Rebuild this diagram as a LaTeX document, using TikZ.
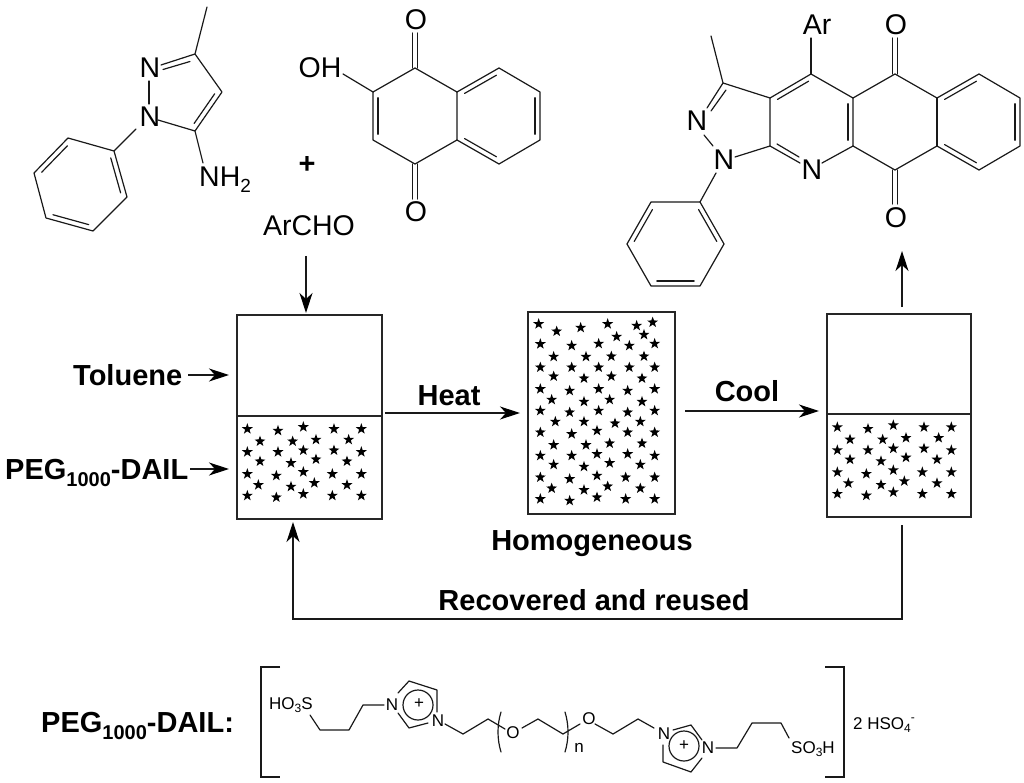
\documentclass[tikz,border=0pt]{standalone}
\usepackage{fontspec}
\setmainfont{Liberation Sans}
\usetikzlibrary{calc,arrows.meta,shapes.geometric}
\newcommand{\lo}[2]{\raisebox{-0.22em}{\fontsize{#1}{#1}\selectfont #2}}
\newcommand{\hi}[2]{\raisebox{0.45em}{\fontsize{#1}{#1}\selectfont #2}}
% inner line of a double bond, on the right-hand side going a -> b on screen
\newcommand{\dbin}[2]{\draw[bond] ($(#1)!0.12!(#2)!5pt!-90:(#2)$) -- ($(#2)!0.12!(#1)!5pt!90:(#1)$);}
\newcommand{\dbsym}[2]{\draw[bond] ($(#1)!2.4pt!90:(#2)$) -- ($(#2)!2.4pt!-90:(#1)$); \draw[bond] ($(#1)!2.4pt!-90:(#2)$) -- ($(#2)!2.4pt!90:(#1)$);}
\tikzset{
  bond/.style={line width=1.2pt,line join=round,line cap=round,black!90},
  atom/.style={inner sep=0pt,font=\fontsize{28.5}{30}\selectfont},
  small/.style={inner sep=0pt,font=\fontsize{17}{19}\selectfont},
  lab/.style={inner sep=0pt,font=\fontsize{29}{31}\selectfont\bfseries},
  vessel/.style={draw=black!85,line width=1.5pt,inner sep=0pt,anchor=north west},
  arr/.style={line width=1.2pt,black!90,-{Stealth[length=20pt,width=13pt,inset=6pt,fill=black,color=black]}},
  st/.style={star,star points=5,star point ratio=2.5,fill=black,inner sep=0pt,minimum size=11.5pt}
}
\begin{document}
\begin{tikzpicture}[x=1pt,y=-1pt]
\useasboundingbox (0,0) rectangle (1024,783);
% ---- aminopyrazole
\node[atom] (pN2) at (150,68) {N};
\node[atom] (pN1) at (150,117) {N};
\node[atom,anchor=west] (pNH) at (199,180) {NH\lo{19}{2}};
\coordinate (pMe) at (207,7); \coordinate (pC3) at (195,54); \coordinate (pC4) at (222,92); \coordinate (pC5) at (195,131);
\coordinate (pNa) at (161,65); \coordinate (pNb) at (149,81); \coordinate (pNc) at (149,104); \coordinate (pNd) at (158,120);
\coordinate (pNe) at (136,129); \coordinate (pNf) at (203,163);
\coordinate (f1) at (114,151); \coordinate (f2) at (68,138); \coordinate (f3) at (34,173); \coordinate (f4) at (46,218); \coordinate (f5) at (93,231); \coordinate (f6) at (127,197);
\draw[bond] (pMe) -- (pC3) -- (pC4) -- (pC5) -- (pNd);
\draw[bond] (pNa) -- (pC3);
\draw[bond] (pNb) -- (pNc);
\draw[bond] (pC5) -- (pNf);
\draw[bond] (pNe) -- (f1);
\draw[bond] (f1) -- (f2) -- (f3) -- (f4) -- (f5) -- (f6) -- cycle;
\dbin{pC4}{pC5}
\draw[bond] (163,69.5) -- (190,61.5);
\dbin{f3}{f2}\dbin{f5}{f4}\dbin{f1}{f6}
% ---- hydroxynaphthoquinone
\node[atom] (qOH) at (320,68) {OH};
\node[atom] (qO1) at (416,20) {O};
\node[atom] (qO2) at (416,212) {O};
\coordinate (q1) at (415,68); \coordinate (q2) at (373,92); \coordinate (q3) at (373,140); \coordinate (q4) at (415,164); \coordinate (q5) at (457,140); \coordinate (q6) at (457,92);
\coordinate (q7) at (499,68); \coordinate (q8) at (540,92); \coordinate (q9) at (540,140); \coordinate (q10) at (499,164);
\coordinate (qa) at (343,74); \coordinate (qb) at (415,33); \coordinate (qc) at (415,199);
\draw[bond] (q1) -- (q2) -- (q3) -- (q4) -- (q5) -- (q6) -- cycle;
\draw[bond] (q6) -- (q7) -- (q8) -- (q9) -- (q10) -- (q5);
\draw[bond] (qa) -- (q2);
\dbsym{q1}{qb}\dbsym{q4}{qc}
\dbin{q3}{q2}\dbin{q6}{q7}\dbin{q8}{q9}\dbin{q10}{q5}
\node[lab] (plus) at (307,165) {+};
\node[atom] (archo) at (309,226) {ArCHO};
% ---- product
\node[atom] (aAr) at (817,25) {Ar};
\node[atom] (aO1) at (896,25) {O};
\node[atom] (aO2) at (896,218) {O};
\node[atom] (aN2) at (697,121) {N};
\node[atom] (aN1) at (724,160) {N};
\node[atom] (aN3) at (812,170) {N};
\coordinate (a3) at (723,83); \coordinate (a3a) at (770,98); \coordinate (a4) at (811,74); \coordinate (a4a) at (853,98); \coordinate (a5) at (895,74); \coordinate (a5a) at (937,98);
\coordinate (b1) at (979,74); \coordinate (b2) at (1020,98); \coordinate (b3) at (1020,146); \coordinate (b4) at (979,170); \coordinate (b5) at (937,146);
\coordinate (a10) at (895,170); \coordinate (a9a) at (853,146); \coordinate (a8a) at (770,146);
\coordinate (aMe) at (711,36); \coordinate (aArb) at (811,38); \coordinate (aOa) at (895,38); \coordinate (aOb) at (895,204);
\coordinate (aNa) at (707,108); \coordinate (aNb) at (704,135); \coordinate (aNc) at (713,146);
\coordinate (aNd) at (735,157); \coordinate (aNe) at (800,163); \coordinate (aNf) at (822,163);
\coordinate (aNg) at (716,173);
\coordinate (g1) at (700,202); \coordinate (g2) at (651,202); \coordinate (g3) at (627,244); \coordinate (g4) at (651,286); \coordinate (g5) at (700,286); \coordinate (g6) at (724,244);
\draw[bond] (aMe) -- (a3) -- (a3a) -- (a4) -- (a4a) -- (a5) -- (a5a) -- (b1) -- (b2) -- (b3) -- (b4) -- (b5) -- (a10) -- (a9a) -- (a4a);
\draw[bond] (a5a) -- (b5);
\draw[bond] (a3) -- (aNa);
\draw[bond] (aNb) -- (aNc);
\draw[bond] (aNd) -- (a8a) -- (a3a);
\draw[bond] (a8a) -- (aNe);
\draw[bond] (aNf) -- (a9a);
\draw[bond] (a4) -- (aArb);
\draw[bond] (aNg) -- (g1);
\draw[bond] (g1) -- (g2) -- (g3) -- (g4) -- (g5) -- (g6) -- cycle;
\dbsym{a5}{aOa}\dbsym{a10}{aOb}
\dbin{a3a}{a4}\dbin{a4a}{a9a}\dbin{a5a}{b1}\dbin{b2}{b3}\dbin{b4}{b5}
\draw[bond] (726,90) -- (711,111);
\draw[bond] (777,144) -- (799,157);
\dbin{g3}{g2}\dbin{g5}{g4}\dbin{g1}{g6}
% ---- vessels
\node[vessel,minimum width=145pt,minimum height=204pt] (v1) at (236,314) {};
\node[vessel,minimum width=147pt,minimum height=202pt] (v2) at (527,311) {};
\node[vessel,minimum width=144pt,minimum height=203pt] (v3) at (826,313) {};
\coordinate (v1l) at (236,416); \coordinate (v1r) at (381,416);
\coordinate (v3l) at (826,414); \coordinate (v3r) at (970,414);
\draw[line width=2.6pt,black!85] (v1l) -- (v1r);
\draw[line width=2.6pt,black!85] (v3l) -- (v3r);
\begin{scope}[shift={(225,305)},x=0.3333pt,y=-0.3333pt]
\foreach \x/\y [count=\i] in {67/372,159/377,235/366,327/372,409/372,105/409,203/409,273/404,371/404,67/441,159/441,235/436,327/436,409/441,105/469,198/474,273/463,366/469,67/507,154/512,235/501,322/507,409/507,100/540,198/545,268/534,366/540,67/572,154/577,235/567,322/572,409/572}
  \node[st] (sa\i) at (\x,\y) {};
\end{scope}
\begin{scope}[shift={(815,303.2)},x=0.3333pt,y=-0.3333pt]
\foreach \x/\y [count=\i] in {67/372,159/377,235/366,327/372,409/372,105/409,203/409,273/404,371/404,67/441,159/441,235/436,327/436,409/441,105/469,198/474,273/463,366/469,67/507,154/512,235/501,322/507,409/507,100/540,198/545,268/534,366/540,67/572,154/577,235/567,322/572,409/572}
  \node[st] (sc\i) at (\x,\y) {};
\end{scope}
\begin{scope}[shift={(515,300)},x=0.3333pt,y=-0.3333pt]
\foreach \x/\y [count=\i] in {71/72,125/94,197/83,278/72,365/77,413/67,305/110,387/104,76/132,170/137,251/131,343/137,419/131,116/170,213/170,289/169,387/169,76/202,170/202,251/202,343/202,419/202,116/229,207/235,289/229,381/235,76/267,164/272,251/267,338/272,419/267,110/299,207/305,284/299,381/305,76/332,164/337,251/332,338/337,419/332,121/365,207/365,300/370,376/365,76/397,170/402,246/392,338/397,419/397,116/435,213/435,284/430,381/430,76/467,170/467,246/462,338/462,419/467,116/494,207/500,284/489,376/494,76/532,164/537,246/527,332/532,419/532,110/565,207/570,278/559,376/565,76/597,164/602,246/592,332/597,419/597}
  \node[st] (sb\i) at (\x,\y) {};
\end{scope}
% ---- process labels and arrows
\node[lab,anchor=west] (tol) at (73,375) {Toluene};
\node[lab,anchor=west] (peg) at (5,473) {PEG\lo{20}{1000}-DAIL};
\node[lab] (heat) at (449,396) {Heat};
\node[lab] (cool) at (747,391) {Cool};
\node[lab] (homo) at (592,544) {Homogeneous};
\node[lab] (rec) at (594,600) {Recovered and reused};
\coordinate (e1) at (306,256); \coordinate (e2) at (306,313);
\coordinate (e3) at (188,375); \coordinate (e4) at (229,375);
\coordinate (e5) at (190,469); \coordinate (e6) at (229,469);
\coordinate (e7) at (385,413); \coordinate (e8) at (520,413);
\coordinate (e9) at (685,411); \coordinate (e10) at (819,411);
\coordinate (e11) at (902,307); \coordinate (e12) at (902,251);
\coordinate (r1) at (902,525); \coordinate (r2) at (902,619); \coordinate (r3) at (293,619); \coordinate (r4) at (293,522);
\draw[arr] (e1) -- (e2);
\draw[arr] (e3) -- (e4);
\draw[arr] (e5) -- (e6);
\draw[arr] (e7) -- (e8);
\draw[arr] (e9) -- (e10);
\draw[arr] (e11) -- (e12);
\draw[arr] (r1) -- (r2) -- (r3) -- (r4);
% ---- PEG1000-DAIL structure
\node[lab,anchor=west] (peg2) at (41,726) {PEG\lo{20}{1000}-DAIL:};
\coordinate (bl1) at (280,667); \coordinate (bl2) at (261,667); \coordinate (bl3) at (261,777); \coordinate (bl4) at (280,777);
\coordinate (br1) at (825,667); \coordinate (br2) at (844,667); \coordinate (br3) at (844,777); \coordinate (br4) at (825,777);
\draw[bond,line cap=butt,line join=miter] (bl1) -- (bl2) -- (bl3) -- (bl4);
\draw[bond,line cap=butt,line join=miter] (br1) -- (br2) -- (br3) -- (br4);
\node[small,anchor=west] (hos) at (269,705) {HO\lo{12}{3}S};
\node[small] (nl1) at (392,705) {N};
\node[small] (nl2) at (438,721) {N};
\node[small] (ol1) at (513,733) {O};
\node[small] (nn) at (579,748) {n};
\node[small] (ol2) at (589,719) {O};
\node[small] (nr1) at (664,734) {N};
\node[small] (nr2) at (708,748) {N};
\node[small,anchor=west] (soh) at (791,749) {SO\lo{12}{3}H};
\node[small,anchor=west] (hso) at (853,725) {2 HSO\lo{12}{4}\hi{12}{-}};
\draw[bond] (310,715) -- (320,730) -- (349,730) -- (363,705) -- (384,705);
\draw[bond] (398,693) -- (409,681) -- (437,690) -- (437,712);
\draw[bond] (428,723) -- (409,728) -- (398,713);
\draw[bond] (418,705) circle[radius=15];
\node[small] (pl1) at (419,704) {+};
\draw[bond] (445,724) -- (463,734) -- (488,719) -- (505,729);
\draw[bond] (522,728) -- (538,719) -- (563,734) -- (580,724);
\draw[bond] (595,724) -- (613,734) -- (638,719) -- (654,728);
\draw[bond] (673,730) -- (691,725) -- (702,740);
\draw[bond] (702,758) -- (691,772) -- (663,762) -- (663,745);
\draw[bond] (684,746) circle[radius=15];
\node[small] (pl2) at (684,746) {+};
\draw[bond] (716,748) -- (737,748) -- (752,723) -- (781,723) -- (789,738);
\draw[bond] (501,712) .. controls (497,725) and (497,739) .. (501,752);
\draw[bond] (565,712) .. controls (569,725) and (569,739) .. (565,752);
\end{tikzpicture}
\end{document}
